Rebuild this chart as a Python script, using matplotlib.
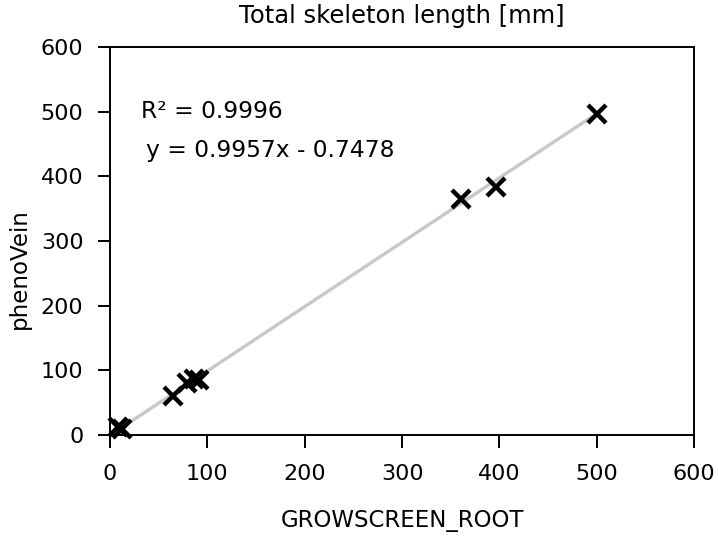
import matplotlib.pyplot as plt
import numpy as np

plt.rcParams["font.family"] = ["DejaVu Sans"]

# data
growscreen = [8, 12, 65, 79, 86, 92, 360, 396, 500]
phenovein = [13, 9, 60, 80, 86, 85, 365, 384, 497]

slope = 0.9957
intercept = -0.7478
r2_text = "R² = 0.9996"
eq_text = "y = 0.9957x - 0.7478"

ticks = [0, 100, 200, 300, 400, 500, 600]


def main():
    fig = plt.figure(figsize=(7.18, 5.39), dpi=100)
    ax = fig.add_axes([0.153, 0.193, 0.814, 0.720])

    xs = np.array([min(growscreen), max(growscreen)])
    ax.plot(xs, slope * xs + intercept, color="#c8c8c8", lw=2.4, zorder=1)

    ax.plot(
        growscreen, phenovein, ls="none", marker="x",
        ms=13, mew=3.2, color="black", zorder=2, clip_on=False,
    )

    ax.set_xlim(0, 600)
    ax.set_ylim(0, 600)
    ax.set_xticks(ticks)
    ax.set_yticks(ticks)
    ax.tick_params(direction="out", length=9, width=1.4, labelsize=16)
    ax.tick_params(axis="x", pad=12)
    ax.tick_params(axis="y", pad=10)
    for s in ax.spines.values():
        s.set_linewidth(1.4)

    ax.set_xlabel("GROWSCREEN_ROOT", fontsize=16.5)
    ax.xaxis.set_label_coords(0.5, -0.19)
    ax.set_ylabel("phenoVein", fontsize=16.5)
    ax.yaxis.set_label_coords(-0.135, 0.43)
    ax.set_title("Total skeleton length [mm]", fontsize=17.5, pad=17)

    ax.text(0.054, 0.817, r2_text, transform=ax.transAxes,
            fontsize=16.8, va="baseline", ha="left")
    ax.text(0.061, 0.717, eq_text, transform=ax.transAxes,
            fontsize=16.8, va="baseline", ha="left")

    fig.savefig("out.png")


main()
